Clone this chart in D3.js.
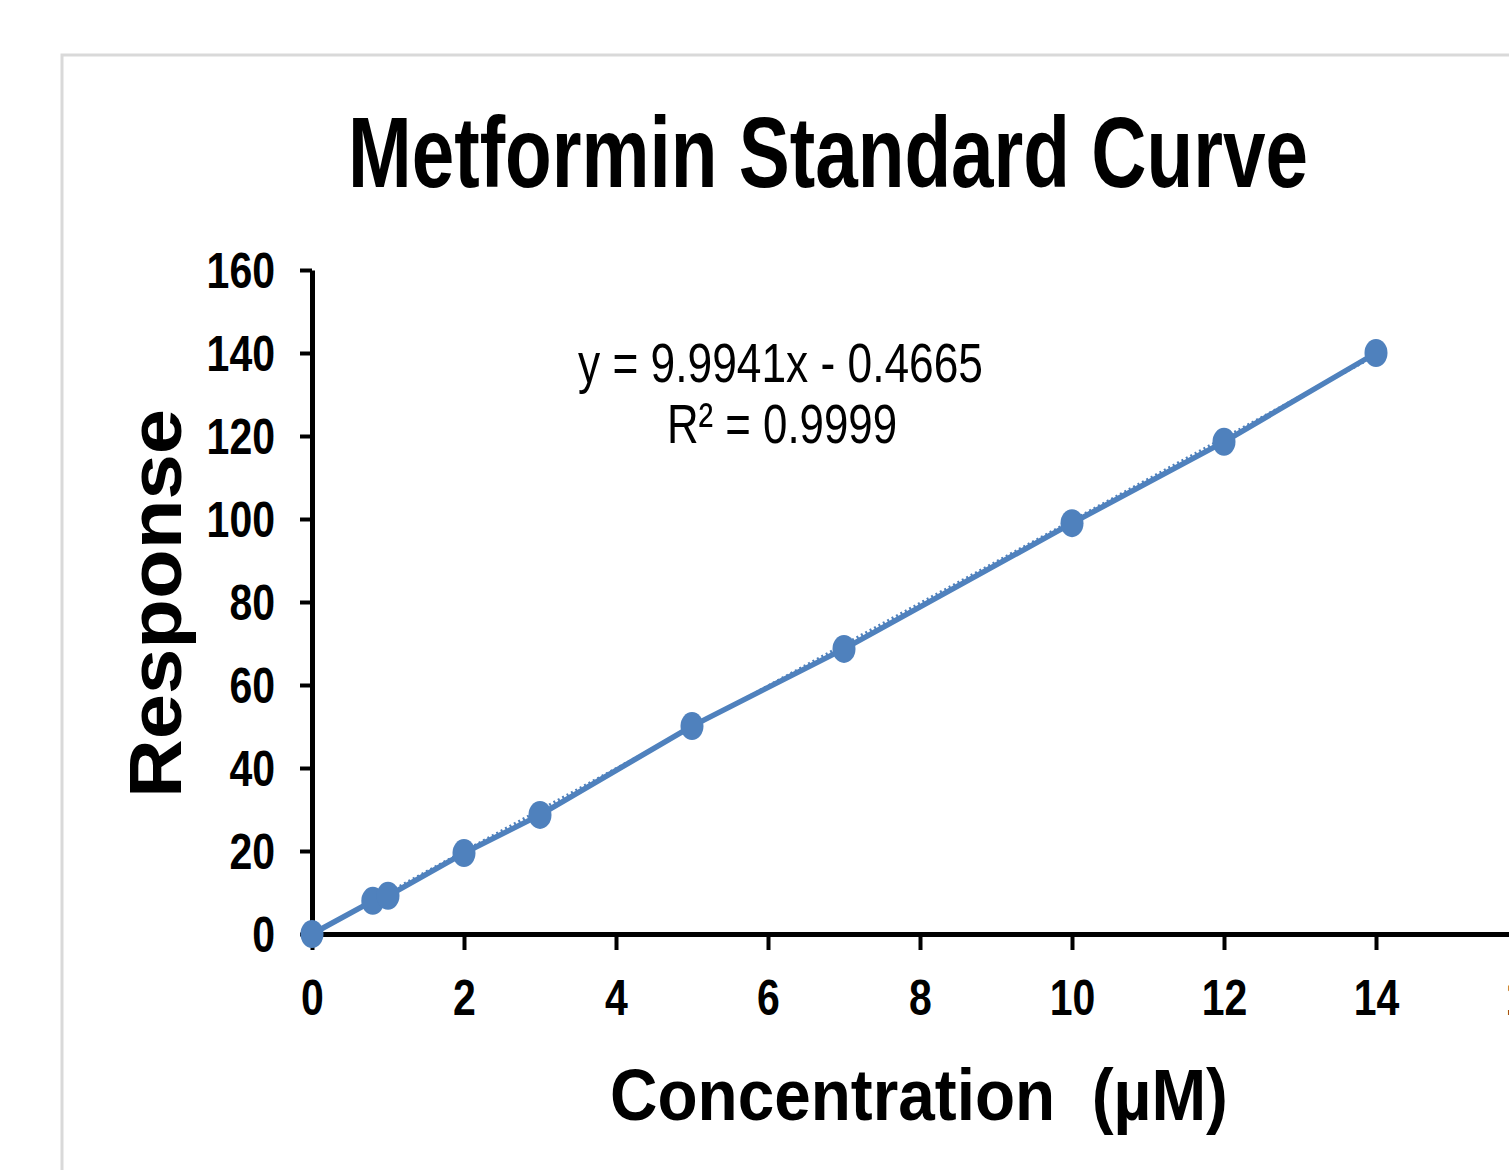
<!DOCTYPE html>
<html>
<head>
<meta charset="utf-8">
<script src="https://cdn.jsdelivr.net/npm/d3@7"></script>
<style>
    body { margin: 0; background: #fff; }
    svg { display: block; }
</style>
</head>
<body>
<script>
// standard curve readings
const concentration = [0, 0.8, 1, 2, 3, 5, 7, 10, 12, 14];
const response = [0, 8.0, 9.2, 19.5, 28.7, 50.1, 68.7, 99.0, 118.6, 140.0];

const xTicks = [0, 2, 4, 6, 8, 10, 12, 14, 16];
const yTicks = [0, 20, 40, 60, 80, 100, 120, 140, 160];

// linear trendline
const slope = 9.9941;
const intercept = -0.4665;
const equationLines = ['y = 9.9941x - 0.4665', 'R² = 0.9999'];

const titleText = 'Metformin Standard Curve';
const xLabel = 'Concentration  (µM)';
const yLabel = 'Response';

drawChart();

function drawChart()
{
    const width = 1509;
    const height = 1170;
    const blue = '#4f81bd';
    const font = '"Liberation Sans", Arial, sans-serif';
    const squeeze = 0.82; // no narrow font installed, so squash glyphs horizontally

    const svg = d3.select('body')
        .append('svg')
        .attr('width', width)
        .attr('height', height);

    // chart area border (runs off the right and bottom)
    svg.append('rect')
        .attr('x', 62)
        .attr('y', 55)
        .attr('width', 1600)
        .attr('height', 1300)
        .attr('fill', '#fff')
        .attr('stroke', '#d9d9d9')
        .attr('stroke-width', 3);

    const x = d3.scaleLinear().domain([0, 16]).range([312, 1528]);
    const y = d3.scaleLinear().domain([0, 160]).range([934, 270]);

    // x axis
    const xAxis = svg.append('g')
        .attr('transform', `translate(0,${y(0)})`)
        .call(d3.axisBottom(x).tickValues(xTicks).tickSize(16).tickSizeOuter(0));

    // y axis
    const yAxis = svg.append('g')
        .attr('transform', `translate(${x(0)},0)`)
        .call(d3.axisLeft(y).tickValues(yTicks).tickSize(12).tickSizeOuter(0));

    [xAxis, yAxis].forEach(g =>
    {
        g.select('.domain').attr('stroke', '#000').attr('stroke-width', 5);
        g.selectAll('.tick line').attr('stroke', '#000').attr('stroke-width', 4);
        g.selectAll('.tick text')
            .attr('fill', '#000')
            .style('font-family', font)
            .style('font-weight', 'bold')
            .style('font-size', '50px');
    });

    xAxis.selectAll('.tick text')
        .attr('x', 0)
        .attr('y', 46)
        .attr('dy', '0.71em')
        .attr('transform', `scale(${squeeze},1)`);
    yAxis.selectAll('.tick text')
        .attr('x', -37 / squeeze)
        .attr('dy', '0.35em')
        .attr('transform', `scale(${squeeze},1)`);

    // dotted trendline
    svg.append('line')
        .attr('x1', x(0))
        .attr('y1', y(Math.max(0, intercept)))
        .attr('x2', x(14))
        .attr('y2', y(slope * 14 + intercept))
        .attr('stroke', blue)
        .attr('stroke-width', 3)
        .attr('stroke-dasharray', '2,3');

    // data line
    const points = concentration.map((c, i) => [c, response[i]]);
    const lineGenerator = d3.line()
        .x(d => x(d[0]))
        .y(d => y(d[1]));

    svg.append('path')
        .datum(points)
        .attr('d', lineGenerator)
        .attr('fill', 'none')
        .attr('stroke', blue)
        .attr('stroke-width', 5.5)
        .attr('stroke-linejoin', 'round');

    svg.selectAll('.dot')
        .data(points)
        .enter()
        .append('ellipse')
        .attr('class', 'dot')
        .attr('cx', d => x(d[0]))
        .attr('cy', d => y(d[1]))
        .attr('rx', 11.5)
        .attr('ry', 14)
        .attr('fill', blue);

    // title
    svg.append('text')
        .attr('x', 348)
        .attr('y', 187)
        .attr('textLength', 960)
        .attr('lengthAdjust', 'spacingAndGlyphs')
        .style('font-family', font)
        .style('font-weight', 'bold')
        .style('font-size', '100px')
        .text(titleText);

    // trendline equation
    const eqPos = [[578, 382, 405], [667, 443, 230]];
    equationLines.forEach((line, i) =>
    {
        svg.append('text')
            .attr('x', eqPos[i][0])
            .attr('y', eqPos[i][1])
            .attr('textLength', eqPos[i][2])
            .attr('lengthAdjust', 'spacingAndGlyphs')
            .style('font-family', font)
            .style('font-size', '56px')
            .text(line);
    });

    // axis titles
    svg.append('text')
        .attr('x', 610)
        .attr('y', 1120)
        .attr('textLength', 618)
        .attr('lengthAdjust', 'spacingAndGlyphs')
        .style('font-family', font)
        .style('font-weight', 'bold')
        .style('font-size', '73px')
        .style('white-space', 'pre')
        .text(xLabel);

    svg.append('text')
        .attr('transform', 'translate(181,798) rotate(-90)')
        .attr('textLength', 389)
        .attr('lengthAdjust', 'spacingAndGlyphs')
        .style('font-family', font)
        .style('font-weight', 'bold')
        .style('font-size', '74px')
        .text(yLabel);
}
</script>
</body>
</html>
